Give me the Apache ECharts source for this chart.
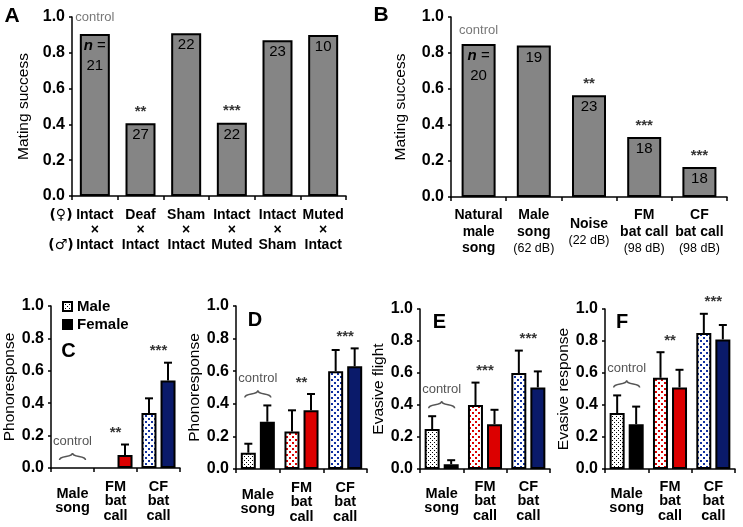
<!DOCTYPE html>
<html><head><meta charset="utf-8">
<script src="https://cdn.jsdelivr.net/npm/echarts@6/dist/echarts.min.js"></script>
<style>html,body{margin:0;padding:0;background:#fff}#c{width:743px;height:527px}</style>
</head><body><div id="c"></div>
<script>
// ---------- DATA ----------
const catsA = ['Intact\n×\nIntact', 'Deaf\n×\nIntact', 'Sham\n×\nIntact', 'Intact\n×\nMuted', 'Intact\n×\nSham', 'Muted\n×\nIntact'];
const valsA = [0.905, 0.407, 0.909, 0.409, 0.870, 0.900];
const nA = [21, 27, 22, 22, 23, 10];
const starsA = ['', '**', '', '***', '', ''];

const catsB = ['Natural\nmale\nsong', 'Male\nsong\n{s|(62 dB)}', 'Noise\n{s|(22 dB)}', 'FM\nbat call\n{s|(98 dB)}', 'CF\nbat call\n{s|(98 dB)}'];
const valsB = [0.85, 0.842, 0.565, 0.333, 0.167];
const nB = [20, 19, 23, 18, 18];
const starsB = ['', '', '**', '***', '***'];

const catsCF = ['Male\nsong', 'FM\nbat\ncall', 'CF\nbat\ncall'];
const yTicks = [0, 0.2, 0.4, 0.6, 0.8, 1.0];

const maleC = [0, 0, 0.34],    maleErrC = [0, 0, 0.09];
const femaleC = [0, 0.08, 0.54], femaleErrC = [0, 0.065, 0.11];
const starsC = ['', '**', '***'];

const maleD = [0.10, 0.23, 0.60],  maleErrD = [0.055, 0.13, 0.13];
const femaleD = [0.29, 0.36, 0.63], femaleErrD = [0.10, 0.10, 0.11];
const starsD = ['', '**', '***'];

const maleE = [0.25, 0.40, 0.60],  maleErrE = [0.08, 0.14, 0.14];
const femaleE = [0.03, 0.28, 0.51], femaleErrE = [0.025, 0.09, 0.10];
const starsE = ['', '***', '***'];

const maleF = [0.35, 0.57, 0.85],  maleErrF = [0.11, 0.16, 0.12];
const femaleF = [0.28, 0.51, 0.81], femaleErrF = [0.11, 0.11, 0.09];
const starsF = ['', '**', '***'];

// ---------- STYLE ----------
const FONT = '"Liberation Sans", Arial, Helvetica, sans-serif';
const GRAY = '#858585', RED = '#dc0000', NAVY = '#0a1a6a', CTRL = '#555';

function dotPattern(color, size, dots, r) {
  const c = document.createElement('canvas'); c.width = size; c.height = size;
  const g = c.getContext('2d'); g.fillStyle = '#fff'; g.fillRect(0, 0, size, size);
  g.fillStyle = color;
  dots.forEach(d => g.fillRect(d[0], d[1], r, r));
  return { image: c, repeat: 'repeat' };
}
const patBlack = dotPattern('#000', 4, [[0, 0], [2, 2]], 1);
const patRed = dotPattern(RED, 6, [[1, 1], [4, 4]], 2);
const patBlue = dotPattern('#1030a0', 6, [[1, 1], [4, 4]], 2);
const malePats = [patBlack, patRed, patBlue];
const femaleCols = ['#000', RED, NAVY];

const chart = echarts.init(document.getElementById('c'), null, { renderer: 'canvas' });

const grids = [
  { left: 72, top: 17, width: 274, height: 179 },
  { left: 451, top: 17, width: 276, height: 180 },
  { left: 51, top: 306, width: 129, height: 162 },
  { left: 236, top: 306, width: 131, height: 163 },
  { left: 420, top: 309, width: 130, height: 160 },
  { left: 605, top: 309, width: 130, height: 160 }
].map(g => Object.assign({ containLabel: false, outerBoundsMode: 'none' }, g));

function yAx(gi, name, gap) {
  return {
    type: 'value', gridIndex: gi, min: yTicks[0], max: yTicks[yTicks.length - 1], interval: 0.2,
    name, nameLocation: 'middle', nameGap: gap,
    nameTextStyle: { fontSize: 15.5, color: '#000', fontFamily: FONT },
    axisLine: { show: true, lineStyle: { color: '#000', width: 1.5 } },
    axisTick: { show: true, length: 3, lineStyle: { color: '#000', width: 1.5 } },
    splitLine: { show: false },
    axisLabel: { formatter: v => v.toFixed(1), fontSize: 16, fontWeight: 'bold', color: '#000', margin: 7, fontFamily: FONT }
  };
}
function xAx(gi, cats, margin, lh, fs, rich) {
  return {
    type: 'category', gridIndex: gi, data: cats,
    axisLine: { lineStyle: { color: '#000', width: 1.5 } },
    axisTick: { show: true, length: 4, lineStyle: { color: '#000', width: 1.5 } },
    axisLabel: { interval: 0, fontSize: fs, fontWeight: 'bold', color: '#000', lineHeight: lh,
      verticalAlign: 'middle', margin, fontFamily: FONT, rich: rich || {} }
  };
}

const xAxes = [
  xAx(0, catsA, 34, 15.3, 14),
  xAx(1, catsB, 35, 16.5, 14, { s: { fontSize: 12.5, fontWeight: 'normal', lineHeight: 16.5, fontFamily: FONT, color: '#000' } }),
  xAx(2, catsCF, 33, 14.5, 14.5), xAx(3, catsCF, 33, 14.5, 14.5), xAx(4, catsCF, 32, 14.5, 14.5), xAx(5, catsCF, 32, 14.5, 14.5)
];
const yAxes = [
  yAx(0, 'Mating success', 40), yAx(1, 'Mating success', 42),
  yAx(2, 'Phonoresponse', 33), yAx(3, 'Phonoresponse', 33),
  yAx(4, 'Evasive flight', 32), yAx(5, 'Evasive response', 32)
];

const series = [];

function grayBars(gi, vals, ns, bw) {
  series.push({
    type: 'bar', xAxisIndex: gi, yAxisIndex: gi, barWidth: bw,
    data: vals.map(v => ({ value: v })),
    itemStyle: { color: GRAY, borderColor: '#000', borderWidth: 2 },
    label: {
      show: true, position: 'insideTop', distance: 2, fontSize: 15, lineHeight: 20, color: '#000', fontFamily: FONT,
      formatter: p => p.dataIndex === 0 ? '{i|n} =\n' + ns[p.dataIndex] : String(ns[p.dataIndex]),
      rich: { i: { fontStyle: 'italic', fontWeight: 'bold', fontSize: 15, lineHeight: 20, fontFamily: FONT, color: '#000' } }
    }
  });
}
function starSeries(gi, anchors, stars, withControl, ctrlDist) {
  series.push({
    type: 'scatter', xAxisIndex: gi, yAxisIndex: gi, symbolSize: 0, z: 6, silent: true,
    data: anchors.map((v, i) => ({ value: [i, v],
      label: (withControl && i === 0) ? { distance: ctrlDist } : undefined })),
    label: {
      show: true, position: 'top', distance: 4, fontSize: 15, fontWeight: 'bold', color: '#000', fontFamily: FONT,
      formatter: p => (withControl && p.dataIndex === 0) ? '{c|control}' : stars[p.dataIndex],
      rich: { c: { color: CTRL, fontSize: 13, fontWeight: 'normal', fontFamily: FONT } }
    }
  });
}
function errSeries(gi, vals, errs, off) {
  series.push({
    type: 'custom', xAxisIndex: gi, yAxisIndex: gi, z: 5, silent: true,
    data: vals.map((v, i) => [i, v, errs[i]]),
    encode: { x: 0, y: 1 },
    renderItem: (params, api) => {
      const e = api.value(2);
      if (!e) return null;
      const i = api.value(0), v = api.value(1);
      const a = api.coord([i, v]), b = api.coord([i, v + e]);
      const x = a[0] + off;
      return { type: 'group', children: [
        { type: 'line', shape: { x1: x, y1: a[1], x2: x, y2: b[1] }, style: { stroke: '#000', lineWidth: 2 } },
        { type: 'line', shape: { x1: x - 4, y1: b[1], x2: x + 4, y2: b[1] }, style: { stroke: '#000', lineWidth: 2 } }
      ] };
    }
  });
}
function pairPanel(gi, male, maleErr, female, femaleErr, stars) {
  series.push({
    type: 'bar', name: 'Male', xAxisIndex: gi, yAxisIndex: gi, barWidth: 15, barGap: '27%',
    data: male.map((v, i) => ({ value: v === 0 ? '-' : v, itemStyle: { color: malePats[i] } })),
    itemStyle: { color: patBlack, borderColor: '#000', borderWidth: 2 }
  });
  series.push({
    type: 'bar', name: 'Female', xAxisIndex: gi, yAxisIndex: gi, barWidth: 15, barGap: '27%',
    data: female.map((v, i) => ({ value: v === 0 ? '-' : v, itemStyle: { color: femaleCols[i] } })),
    itemStyle: { color: '#000', borderColor: '#000', borderWidth: 2 }
  });
  errSeries(gi, male, maleErr, -9.5);
  errSeries(gi, female, femaleErr, 9.5);
  const anchors = male.map((v, i) => Math.max(v + maleErr[i], female[i] + femaleErr[i]));
  starSeries(gi, anchors, stars, false, 0);
}

grayBars(0, valsA, nA, 30);
starSeries(0, valsA, starsA, true, 10);
grayBars(1, valsB, nB, 34);
starSeries(1, valsB, starsB, true, 7);
pairPanel(2, maleC, maleErrC, femaleC, femaleErrC, starsC);
pairPanel(3, maleD, maleErrD, femaleD, femaleErrD, starsD);
pairPanel(4, maleE, maleErrE, femaleE, femaleErrE, starsE);
pairPanel(5, maleF, maleErrF, femaleF, femaleErrF, starsF);

function txt(x, y, text, font, color, align) {
  return { type: 'text', x, y, silent: true, style: { text, font, fill: color || '#000', align: align || 'center', verticalAlign: 'middle', textAlign: align || 'center', textVerticalAlign: 'middle' } };
}
const staticGraphics = [
  txt(12, 16, 'A', 'bold 21px ' + FONT),
  txt(381, 15, 'B', 'bold 21px ' + FONT),
  txt(68.5, 351, 'C', 'bold 20px ' + FONT),
  txt(255, 320, 'D', 'bold 20px ' + FONT),
  txt(439.5, 322, 'E', 'bold 20px ' + FONT),
  txt(622, 322.5, 'F', 'bold 20px ' + FONT),
  txt(61, 215, '(♀)', 'bold 14px "DejaVu Sans", ' + FONT),
  txt(61, 245.6, '(♂)', 'bold 14px "DejaVu Sans", ' + FONT)
];

chart.setOption({
  animation: false,
  backgroundColor: '#fff',
  textStyle: { fontFamily: FONT },
  grid: grids,
  xAxis: xAxes,
  yAxis: yAxes,
  legend: {
    data: [{ name: 'Male', icon: 'rect' }, { name: 'Female', icon: 'rect' }],
    orient: 'vertical', left: 62, top: 299, padding: 0, itemWidth: 9, itemHeight: 9, itemGap: 3,
    selectedMode: false,
    textStyle: { fontSize: 15, fontWeight: 'bold', color: '#000', fontFamily: FONT }
  },
  series,
  graphic: staticGraphics
});

// control braces for panels C–F, anchored to the data through the axes
const pairs = [[2, maleC, maleErrC, femaleC, femaleErrC], [3, maleD, maleErrD, femaleD, femaleErrD],
               [4, maleE, maleErrE, femaleE, femaleErrE], [5, maleF, maleErrF, femaleF, femaleErrF]];
const dyn = [];
pairs.forEach(([gi, m, me, f, fe]) => {
  const top = Math.max(m[0] + me[0], f[0] + fe[0]);
  const p = chart.convertToPixel({ gridIndex: gi }, [0, top]);
  dyn.push({
    type: 'group', x: p[0], y: p[1] - 12, silent: true,
    children: [
      { type: 'bezierCurve', shape: { x1: -13, y1: 4, cpx1: -13, cpy1: -1, cpx2: 0, cpy2: 2, x2: 0, y2: -3 }, style: { stroke: CTRL, lineWidth: 1.5, fill: null } },
      { type: 'bezierCurve', shape: { x1: 13, y1: 4, cpx1: 13, cpy1: -1, cpx2: 0, cpy2: 2, x2: 0, y2: -3 }, style: { stroke: CTRL, lineWidth: 1.5, fill: null } }
    ]
  });
  dyn.push(txt(p[0], p[1] - 27, 'control', '13px ' + FONT, CTRL));
});
chart.setOption({ graphic: staticGraphics.concat(dyn) });
</script>
</body></html>
